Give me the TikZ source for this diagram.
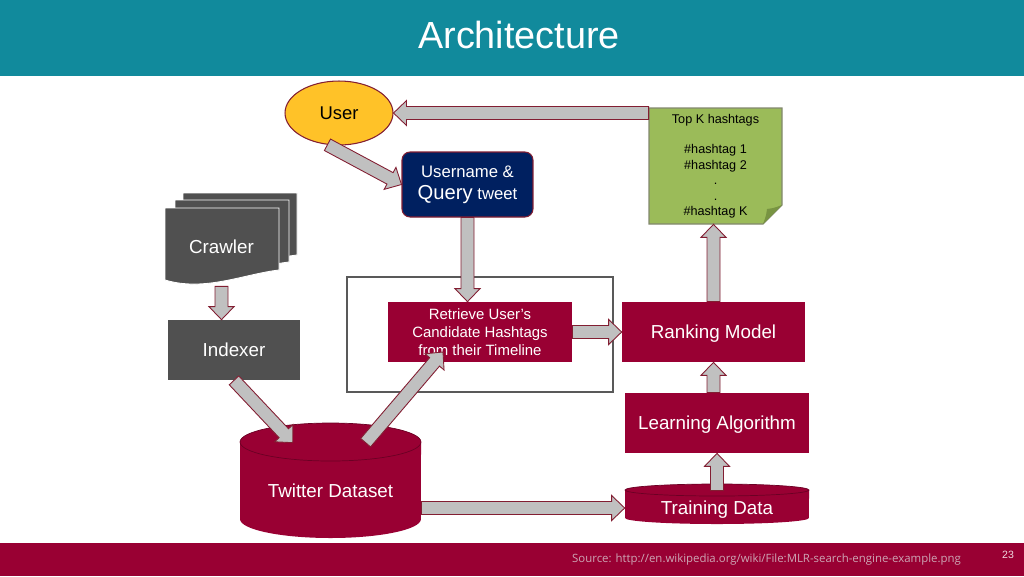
\documentclass[tikz,border=0pt]{standalone}
\usepackage{fontspec}
\setmainfont{Liberation Sans}
\newfontfamily\srcfont{Open Sans}
\usetikzlibrary{positioning,calc,shapes.geometric}

\definecolor{titleteal}{RGB}{17,138,156}
\definecolor{crimson}{RGB}{153,0,51}
\definecolor{darkgraybox}{RGB}{80,80,80}
\definecolor{navybox}{RGB}{0,32,96}
\definecolor{notegreen}{RGB}{155,187,89}
\definecolor{notefold}{RGB}{120,148,66}
\definecolor{noteedge}{RGB}{130,135,110}
\definecolor{usergold}{RGB}{255,194,40}
\definecolor{edgered}{RGB}{130,30,50}
\definecolor{arrowgray}{RGB}{192,192,192}
\definecolor{framegray}{RGB}{89,89,89}
\definecolor{srctext}{RGB}{205,165,180}

\begin{document}
\begin{tikzpicture}[x=0.02cm, y=-0.02cm,
  every node/.style={font=\fontsize{10.7}{12.8}\selectfont, inner sep=0pt},
  oneline/.style={text height=0.72em, text depth=0pt},
  redbox/.style={fill=crimson, text=white, minimum width=3.68cm, minimum height=1.2cm},
  graybox/.style={fill=darkgraybox, text=white},
  fatarrow/.style={draw=edgered, fill=arrowgray, line width=0.5pt, line join=miter,
    to path={let \p1=(\tikztostart), \p2=(\tikztotarget),
      \n1={atan2(\y2-\y1,\x2-\x1)} in
      ($(\p1)+(\n1+90:0.13cm)$)
      -- ($(\p2)+(\n1+180:0.26cm)+(\n1+90:0.13cm)$)
      -- ($(\p2)+(\n1+180:0.26cm)+(\n1+90:0.25cm)$)
      -- (\p2)
      -- ($(\p2)+(\n1+180:0.26cm)+(\n1-90:0.25cm)$)
      -- ($(\p2)+(\n1+180:0.26cm)+(\n1-90:0.13cm)$)
      -- ($(\p1)+(\n1-90:0.13cm)$) -- cycle}}]
  \useasboundingbox (0,0) rectangle (1024,576);

  \fill[titleteal] (0,0) rectangle (1024,76);
  \node[text=white, font=\fontsize{21.5}{25}\selectfont] (title) at (519,35) {Architecture};
  \fill[crimson] (0,543) rectangle (1024,576);
  \node[text=srctext, font=\srcfont\fontsize{6.5}{8}\selectfont] (source) at (766.5,560)
    {Source: http://en.wikipedia.org/wiki/File:MLR-search-engine-example.png};
  \node[text=white!85!crimson, font=\fontsize{6}{7}\selectfont] (pagenum) at (1008,555) {23};

  \node[ellipse, draw=edgered, fill=usergold, line width=0.6pt, minimum width=2.16cm, minimum height=1.28cm,
    oneline, font=\fontsize{10.5}{12}\selectfont] (user) at (339,113) {User};

  \filldraw[fill=notegreen, draw=noteedge, line width=0.6pt]
    (649,108) -- (782,108) -- (782,205) -- (763,224) -- (649,224) -- cycle;
  \fill[notefold] (763,224) .. controls (766,216) .. (767,209) .. controls (774,208) .. (782,205) -- cycle;
  \node[minimum width=2.66cm, minimum height=2.32cm, align=center,
    font=\fontsize{7.2}{8.76}\selectfont] (topk) at (715.5,166)
    {Top K hashtags\\[8.76pt]\#hashtag 1\\\#hashtag 2\\.\\.\\\#hashtag K};

  \node[fill=navybox, draw=edgered, line width=0.6pt, rounded corners=0.16cm, text=white,
    minimum width=2.62cm, minimum height=1.3cm, align=center,
    font=\fontsize{9.5}{12.5}\selectfont] (query) at (467.5,184.5)
    {Username \&\\{\fontsize{11.5}{12.5}\selectfont Query} tweet};

  \foreach \dx/\dy in {18/-15, 10/-8, 0/0}
    \filldraw[fill=darkgraybox, draw=white, line width=0.5pt, shift={(\dx,\dy)}]
      (165,208) -- (279,208) -- (279,270) .. controls (244,274) and (205,292) .. (165,280) -- cycle;
  \node[text=white, oneline, minimum width=2.28cm, minimum height=1.56cm] (crawler) at (221.5,247) {Crawler};

  \node[graybox, oneline, minimum width=2.64cm, minimum height=1.2cm] (indexer) at (234,350) {Indexer};

  \node[draw=framegray, line width=1.2pt, minimum width=5.32cm, minimum height=2.3cm] (retrframe) at (480,334.5) {};
  \node[redbox, align=center, font=\fontsize{8.5}{10.2}\selectfont] (retrieve) at (480,332)
    {Retrieve User's\\Candidate Hashtags\\from their Timeline};
  \node[redbox, oneline, minimum width=3.66cm] (ranking) at (713.5,332) {Ranking Model};
  \node[redbox, oneline] (learning) at (717,423) {Learning Algorithm};

  \fill[crimson] (240,442) -- (240,519) arc[start angle=180, end angle=360, x radius=1.81cm, y radius=0.38cm]
    -- (421,442) arc[start angle=0, end angle=180, x radius=1.81cm, y radius=0.38cm] -- cycle;
  \draw[crimson!70!black, line width=0.4pt] (330.5,442) ellipse[x radius=1.81cm, y radius=0.38cm];
  \node[text=white, oneline, minimum width=3.62cm, minimum height=1.92cm] (twitter) at (330.5,491) {Twitter Dataset};

  \fill[crimson] (625,490) -- (625,518) arc[start angle=180, end angle=360, x radius=1.84cm, y radius=0.12cm]
    -- (809,490) arc[start angle=0, end angle=180, x radius=1.84cm, y radius=0.12cm] -- cycle;
  \draw[crimson!70!black, line width=0.4pt] (717,490) ellipse[x radius=1.84cm, y radius=0.12cm];
  \node[text=white, oneline, minimum width=3.68cm, minimum height=0.68cm] (training) at (717,508) {Training Data};

  \draw[fatarrow] (user.east -| topk.west) to (user.east);
  \draw[fatarrow] (user.-110) to (query.west);
  \draw[fatarrow] (query.south) to (query.south |- retrieve.north);
  \draw[fatarrow] (crawler.south) to (crawler.south |- indexer.north);
  \draw[fatarrow] (indexer.south) to (twitter.128);
  \draw[fatarrow] (twitter.54) to ($(retrieve.center)+(-37,20)$);
  \draw[fatarrow] (retrieve.east) to (ranking.west);
  \draw[fatarrow] (ranking.north) to (ranking.north |- topk.south);
  \draw[fatarrow] (ranking.south |- learning.north) to (ranking.south);
  \draw[fatarrow] (training.north) to (training.north |- learning.south);
  \draw[fatarrow] (training.west -| twitter.east) to (training.west);
\end{tikzpicture}
\end{document}
